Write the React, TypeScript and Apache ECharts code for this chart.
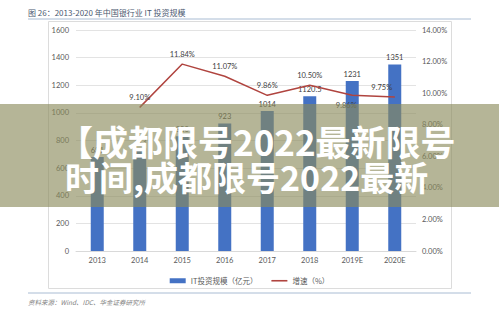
import React, { useEffect, useRef } from "react";
import * as echarts from "echarts";

// Years on the category axis
const categories = ["2013", "2014", "2015", "2016", "2017", "2018", "2019E", "2020E"];
// IT investment of China's banking sector (100 million yuan)
const investment = [681, 743, 830, 923, 1014, 1120.5, 1231, 1351];
// Year-on-year growth (%)
const growth: (number | null)[] = [null, 9.1, 11.84, 11.07, 9.86, 10.5, 9.86, 9.75];

const titleText = "图 26：2013-2020 年中国银行业 IT 投资规模";
const sourceText = "资料来源：Wind、IDC、华金证券研究所";
const bannerLine1 = "【成都限号2022最新限号";
const bannerLine2 = "时间,成都限号2022最新";

const NUM_FONT = 'Lato, "Noto Sans CJK SC", sans-serif';
const CJK_FONT = '"Noto Sans CJK SC", sans-serif';
const LINE_COLOR = "#b0443f";

export default function App() {
  const ref = useRef<HTMLDivElement>(null);

  useEffect(() => {
    if (!ref.current) return;
    const chart = echarts.init(ref.current, null, { renderer: "svg" });

    const lineData = growth.map((v, i) => {
      if (v === null) return "-";
      if (categories[i] === "2019E") {
        return { value: v, label: { position: "bottom", offset: [-6, 0] } };
      }
      if (categories[i] === "2020E") {
        return { value: v, label: { offset: [-13, 0] } };
      }
      return v;
    });

    chart.setOption({
      animation: false,
      backgroundColor: "#ffffff",
      textStyle: { fontFamily: NUM_FONT },
      grid: { left: 76, right: 83, top: 30, bottom: 61, containLabel: false },
      legend: {
        left: "center",
        top: 272,
        itemGap: 14,
        itemWidth: 16,
        itemHeight: 5,
        textStyle: { fontSize: 7.5, color: "#595959", fontFamily: CJK_FONT },
        data: [
          { name: "IT投资规模（亿元）", icon: "rect" },
          {
            name: "增速（%）",
            icon: "path://M0,0 L20,0 L20,2 L0,2 Z",
            itemStyle: { color: LINE_COLOR },
          },
        ],
      },
      xAxis: {
        type: "category",
        data: categories,
        axisLine: { lineStyle: { color: "#d9d9d9" } },
        axisTick: { show: false },
        axisLabel: { fontSize: 7.5, color: "#595959", margin: 6 },
      },
      yAxis: [
        {
          type: "value",
          min: 0,
          max: 1600,
          interval: 200,
          axisLine: { show: false },
          axisTick: { show: false },
          axisLabel: {
            fontSize: 7.5,
            color: "#595959",
            margin: 7,
            formatter: (v: number) => String(v),
          },
          splitLine: { lineStyle: { color: "#e3e3e3", width: 1 } },
        },
        {
          type: "value",
          min: 0,
          max: 14,
          interval: 2,
          axisLine: { show: false },
          axisTick: { show: false },
          splitLine: { show: false },
          axisLabel: {
            fontSize: 7.5,
            color: "#595959",
            margin: 6,
            formatter: (v: number) => `${v.toFixed(2)}%`,
          },
        },
      ],
      series: [
        {
          name: "IT投资规模（亿元）",
          type: "bar",
          data: investment,
          barWidth: 13,
          itemStyle: { color: "#4472C4" },
          label: {
            show: true,
            position: "top",
            distance: 3,
            fontSize: 7.5,
            color: "#404040",
          },
        },
        {
          name: "增速（%）",
          type: "line",
          yAxisIndex: 1,
          data: lineData,
          showSymbol: true,
          symbol: "circle",
          symbolSize: 0.5,
          lineStyle: { color: LINE_COLOR, width: 1.5 },
          itemStyle: { color: LINE_COLOR },
          label: {
            show: true,
            position: "top",
            distance: 6,
            fontSize: 7.5,
            color: "#404040",
            formatter: (p: any) => `${Number(p.value).toFixed(2)}%`,
          },
        },
      ],
      graphic: [
        {
          type: "text",
          x: 28,
          y: 12,
          style: {
            text: titleText,
            fontSize: 8,
            fill: "#4a5870",
            fontFamily: CJK_FONT,
            verticalAlign: "middle",
          },
        },
        {
          type: "line",
          shape: { x1: 28, y1: 19, x2: 471, y2: 19 },
          style: { stroke: "#a9bcd3", lineWidth: 1 },
        },
        {
          type: "rect",
          shape: { x: 48.5, y: 21.5, width: 403, height: 267 },
          style: { fill: "none", stroke: "#dcdcdc", lineWidth: 1 },
          z: -1,
        },
        {
          type: "line",
          shape: { x1: 28, y1: 293, x2: 471, y2: 293 },
          style: { stroke: "#a9bcd3", lineWidth: 1 },
        },
        {
          type: "text",
          x: 28,
          y: 302,
          style: {
            text: sourceText,
            fontSize: 6.5,
            fontStyle: "italic",
            fill: "#7f7f7f",
            fontFamily: CJK_FONT,
            verticalAlign: "middle",
          },
        },
        {
          type: "rect",
          z: 100,
          shape: { x: 0, y: 104, width: 499, height: 103 },
          style: { fill: "rgba(138,138,90,0.63)" },
        },
        {
          type: "text",
          z: 101,
          x: 58,
          y: 140,
          style: {
            text: bannerLine1,
            fontSize: 35,
            fontWeight: "bold",
            fill: "#ffffff",
            fontFamily: CJK_FONT,
            verticalAlign: "middle",
          },
        },
        {
          type: "text",
          z: 101,
          x: 65,
          y: 176,
          style: {
            text: bannerLine2,
            fontSize: 34,
            fontWeight: "bold",
            fill: "#ffffff",
            fontFamily: CJK_FONT,
            verticalAlign: "middle",
          },
        },
      ],
    });

    return () => chart.dispose();
  }, []);

  return (
    <div
      ref={ref}
      style={{ position: "fixed", left: 0, top: 0, width: 499, height: 312 }}
    />
  );
}
